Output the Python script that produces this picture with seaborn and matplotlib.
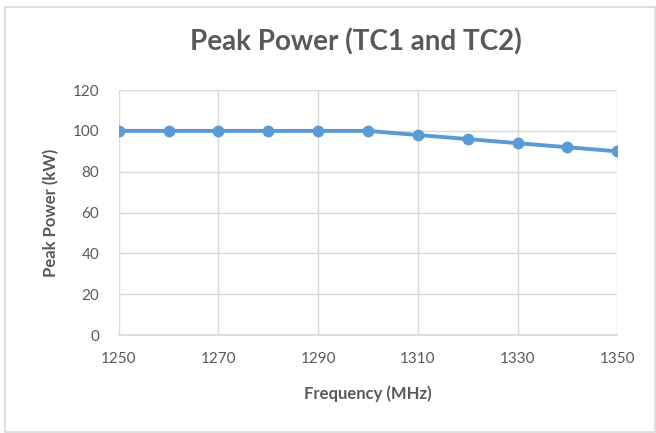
import matplotlib
matplotlib.use("Agg")
import matplotlib.pyplot as plt
import seaborn as sns
import pandas as pd
from matplotlib.patches import Rectangle

freq = [1250, 1260, 1270, 1280, 1290, 1300, 1310, 1320, 1330, 1340, 1350]
power = [100, 100, 100, 100, 100, 100, 98, 96, 94, 92, 90]
xticks = [1250, 1270, 1290, 1310, 1330, 1350]
yticks = [0, 20, 40, 60, 80, 100, 120]

sns.set_theme(style="white")
plt.rcParams['font.family'] = ['Lato', 'DejaVu Sans']

txt = "#595959"
grid = "#D9D9D9"
blue = "#5B9BD5"

df = pd.DataFrame({"Frequency": freq, "Power": power})

fig = plt.figure(figsize=(6.56, 4.33), dpi=100)
ax = fig.add_axes([0.181, 0.226, 0.760, 0.566])

sns.lineplot(data=df, x="Frequency", y="Power", ax=ax, color=blue,
             linewidth=2.8, marker="o", markersize=8.5, markeredgewidth=0)

ax.set_xlim(1250, 1350)
ax.set_ylim(0, 120)
ax.set_xticks(xticks)
ax.set_yticks(yticks)
ax.grid(True, color=grid, linewidth=1)
ax.set_axisbelow(True)
for s in ["top", "right", "left"]:
    ax.spines[s].set_visible(False)
ax.spines["bottom"].set_color(grid)
ax.spines["bottom"].set_linewidth(1.2)
ax.tick_params(axis="both", length=0, labelsize=11, colors=txt)
ax.tick_params(axis="x", pad=12)
ax.tick_params(axis="y", pad=14)

ax.set_xlabel("Frequency (MHz)", fontsize=12, fontweight="bold", color=txt, labelpad=14)
ax.set_ylabel("Peak Power (kW)", fontsize=12, fontweight="bold", color=txt, labelpad=10)
fig.text(0.542, 0.903, "Peak Power (TC1 and TC2)", ha="center", va="center",
         fontsize=20, fontweight="bold", color=txt)

fig.patches.append(Rectangle((5 / 656, 1 / 433), 650 / 656, 425 / 433,
                             transform=fig.transFigure, fill=False,
                             edgecolor=grid, linewidth=1.2))

fig.savefig("out.png", dpi=100)
